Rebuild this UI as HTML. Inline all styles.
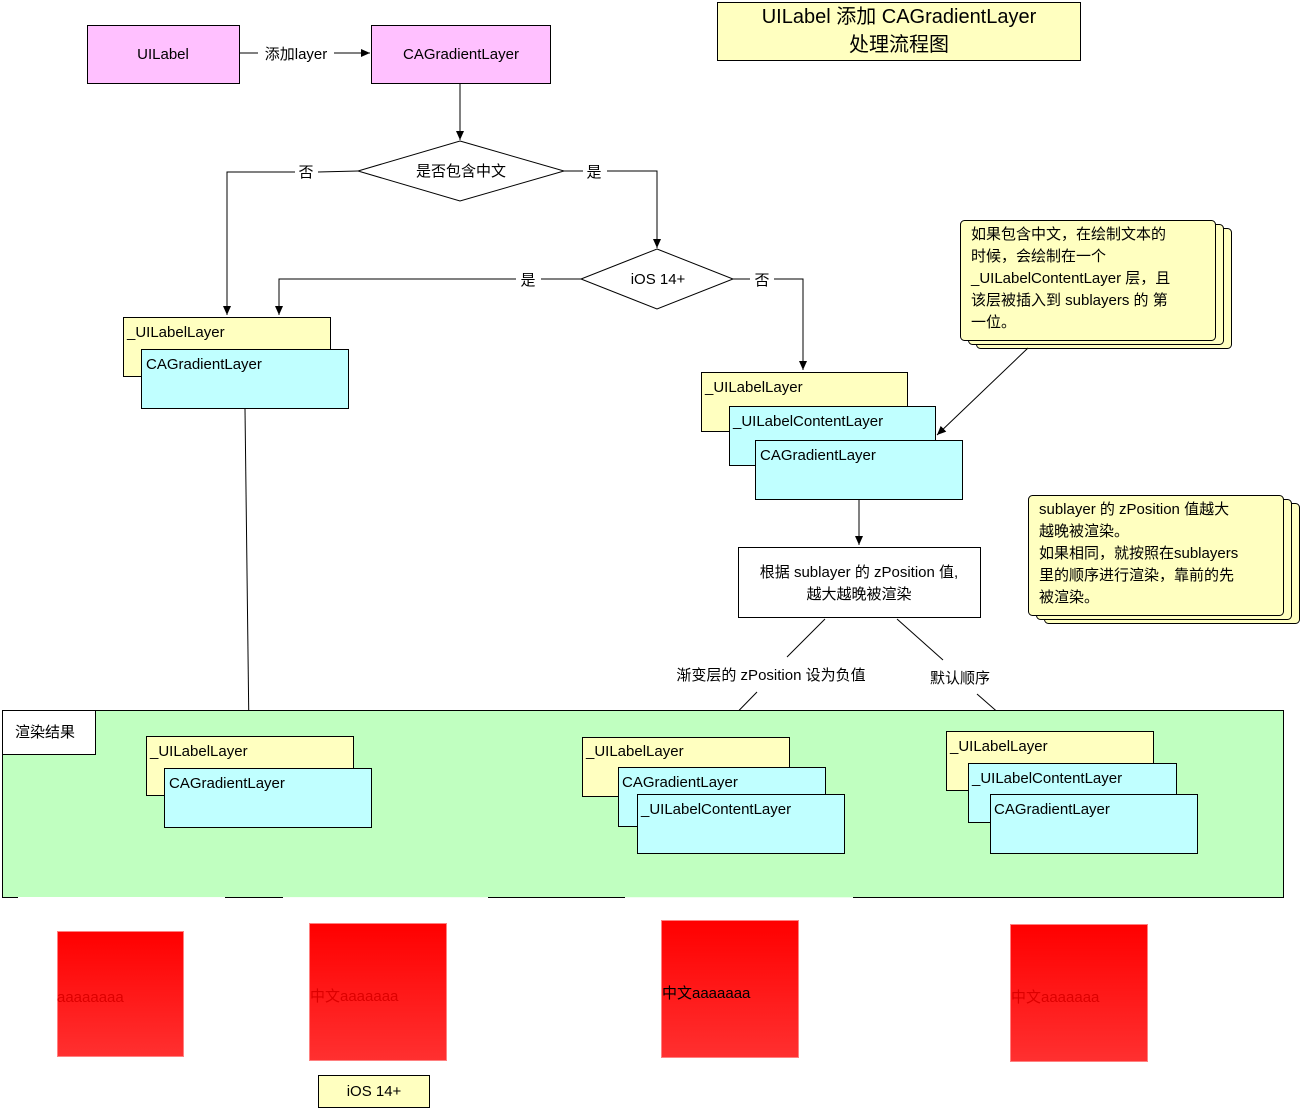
<!DOCTYPE html>
<html><head><meta charset="utf-8"><style>
html,body{margin:0;padding:0;background:#fff}
svg{display:block}
text{font-family:"Liberation Sans","Noto Sans CJK SC",sans-serif;font-size:15px;fill:#000}
</style></head><body>
<svg width="1301" height="1108" viewBox="0 0 1301 1108" xmlns="http://www.w3.org/2000/svg">
<defs>
<marker id="a" markerWidth="10" markerHeight="10" refX="9" refY="5" orient="auto" markerUnits="userSpaceOnUse"><path d="M0,1 L9,5 L0,9 Z" fill="#000"/></marker>
<linearGradient id="r" x1="0" y1="0" x2="0" y2="1"><stop offset="0" stop-color="#ff0000"/><stop offset="1" stop-color="#ff3030"/></linearGradient>
</defs>
<g stroke="#000" stroke-width="1" fill="none">
<!-- top -->
<rect x="87.5" y="25.5" width="152" height="58" fill="#ffc0ff"/>
<rect x="371.5" y="25.5" width="179" height="58" fill="#ffc0ff"/>
<rect x="717.5" y="2.5" width="363" height="58" fill="#ffffc0"/>
<path d="M240,53 H258 M334,53 H370" marker-end="url(#a)"/>
<path d="M460,84 V140" marker-end="url(#a)"/>
<path d="M460,141 L564,171 L460,201 L358,171 Z" fill="#fff"/>
<path d="M358,171 L318,172 M295,172 H227 V315" marker-end="url(#a)"/>
<path d="M564,171 H583 M607,171 H657 V248" marker-end="url(#a)"/>
<path d="M657,249 L733,279 L657,309 L581,279 Z" fill="#fff"/>
<path d="M581,279 H541 M516,279 H279 V315" marker-end="url(#a)"/>
<path d="M733,279 H750 M774,279 H803 V370" marker-end="url(#a)"/>
<!-- left group -->
<rect x="123.5" y="317.5" width="207" height="59" fill="#ffffc0"/>
<rect x="141.5" y="349.5" width="207" height="59" fill="#c0ffff"/>
<path d="M245,409 L249,734" marker-end="url(#a)"/>
<!-- right group -->
<rect x="701.5" y="372.5" width="206" height="59" fill="#ffffc0"/>
<rect x="729.5" y="406.5" width="206" height="59" fill="#c0ffff"/>
<rect x="755.5" y="440.5" width="207" height="59" fill="#c0ffff"/>
<!-- note1 -->
<rect x="976.5" y="228.5" width="255" height="120" rx="4" fill="#ffffc0"/>
<rect x="968.5" y="224.5" width="255" height="120" rx="4" fill="#ffffc0"/>
<rect x="960.5" y="220.5" width="255" height="120" rx="4" fill="#ffffc0"/>
<path d="M1028,348 L937,435" marker-end="url(#a)"/>
<path d="M859,500 V545" marker-end="url(#a)"/>
<rect x="738.5" y="547.5" width="242" height="70" fill="#fff"/>
<path d="M825,619 L787,657"/>
<path d="M757,692 L716,734" marker-end="url(#a)"/>
<path d="M897,619 L943,660"/>
<path d="M977,694 L1017,729" marker-end="url(#a)"/>
<!-- note2 -->
<rect x="1044.5" y="503.5" width="255" height="120" rx="4" fill="#ffffc0"/>
<rect x="1036.5" y="499.5" width="255" height="120" rx="4" fill="#ffffc0"/>
<rect x="1028.5" y="495.5" width="255" height="120" rx="4" fill="#ffffc0"/>
<!-- green -->
<path d="M2.5,897 V710.5 H1283.5 V897.5" fill="#c0ffc0"/>
<path d="M2,897.5 H18 M225,897.5 H283 M488,897.5 H625 M853,897.5 H1284"/>
<rect x="2.5" y="710.5" width="93" height="44" fill="#fff"/>
<rect x="146.5" y="736.5" width="207" height="59" fill="#ffffc0"/>
<rect x="164.5" y="768.5" width="207" height="59" fill="#c0ffff"/>
<rect x="582.5" y="737.5" width="207" height="59" fill="#ffffc0"/>
<rect x="618.5" y="767.5" width="207" height="59" fill="#c0ffff"/>
<rect x="637.5" y="794.5" width="207" height="59" fill="#c0ffff"/>
<rect x="946.5" y="731.5" width="207" height="59" fill="#ffffc0"/>
<rect x="968.5" y="763.5" width="208" height="59" fill="#c0ffff"/>
<rect x="990.5" y="794.5" width="207" height="59" fill="#c0ffff"/>
<rect x="318.5" y="1075.5" width="111" height="32" fill="#ffffc0"/>
</g>
<g stroke="#ff8080" stroke-width="1">
<rect x="57.5" y="931.5" width="126" height="125" fill="url(#r)"/>
<rect x="309.5" y="923.5" width="137" height="137" fill="url(#r)"/>
<rect x="661.5" y="920.5" width="137" height="137" fill="url(#r)"/>
<rect x="1010.5" y="924.5" width="137" height="137" fill="url(#r)"/>
</g>
<g text-anchor="middle">
<text x="163" y="59">UILabel</text>
<text x="461" y="59">CAGradientLayer</text>
<text x="296" y="59">添加layer</text>
<text x="899" y="23" style="font-size:20px">UILabel 添加 CAGradientLayer</text>
<text x="899" y="51" style="font-size:20px">处理流程图</text>
<text x="461" y="176">是否包含中文</text>
<text x="306" y="177">否</text>
<text x="594" y="177">是</text>
<text x="658" y="284">iOS 14+</text>
<text x="528" y="285">是</text>
<text x="762" y="285">否</text>
<text x="859" y="577">根据 sublayer 的 zPosition 值,</text>
<text x="859" y="599">越大越晚被渲染</text>
<text x="771" y="680">渐变层的 zPosition 设为负值</text>
<text x="960" y="683">默认顺序</text>
<text x="374" y="1096">iOS 14+</text>
</g>
<text x="127" y="337">_UILabelLayer</text>
<text x="146" y="369">CAGradientLayer</text>
<text x="705" y="392">_UILabelLayer</text>
<text x="733" y="426">_UILabelContentLayer</text>
<text x="760" y="460">CAGradientLayer</text>
<g style="font-size:15px">
<text x="971" y="239">如果包含中文，在绘制文本的</text>
<text x="971" y="261">时候，会绘制在一个</text>
<text x="971" y="283">_UILabelContentLayer 层，且</text>
<text x="971" y="305">该层被插入到 sublayers 的 第</text>
<text x="971" y="327">一位。</text>
<text x="1039" y="514">sublayer 的 zPosition 值越大</text>
<text x="1039" y="536">越晚被渲染。</text>
<text x="1039" y="558">如果相同，就按照在sublayers</text>
<text x="1039" y="580">里的顺序进行渲染，靠前的先</text>
<text x="1039" y="602">被渲染。</text>
</g>
<text x="15" y="737">渲染结果</text>
<text x="150" y="756">_UILabelLayer</text>
<text x="169" y="788">CAGradientLayer</text>
<text x="586" y="756">_UILabelLayer</text>
<text x="622" y="787">CAGradientLayer</text>
<text x="641" y="814">_UILabelContentLayer</text>
<text x="950" y="751">_UILabelLayer</text>
<text x="972" y="783">_UILabelContentLayer</text>
<text x="994" y="814">CAGradientLayer</text>
<g style="font-size:21px">
<text x="57" y="1002" fill="#dd0000" style="fill:#dd0000">aaaaaaaa</text>
<text x="310" y="1001" style="fill:#dd0000">中文aaaaaaa</text>
<text x="662" y="998" style="fill:#000">中文aaaaaaa</text>
<text x="1011" y="1002" style="fill:#dd0000">中文aaaaaaa</text>
</g>
</svg>
</body></html>
